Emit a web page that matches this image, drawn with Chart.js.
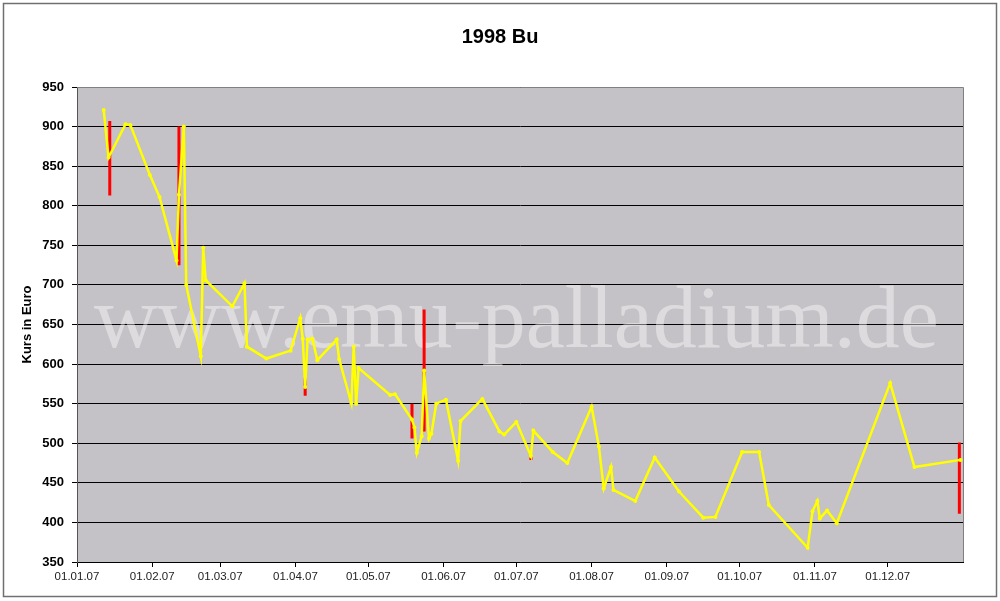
<!DOCTYPE html>
<html><head><meta charset="utf-8">
<script src="https://cdn.jsdelivr.net/npm/chart.js@4.4.0/dist/chart.umd.min.js"></script>
<style>html,body{margin:0;padding:0;background:#fff;}canvas{display:block}</style>
</head><body>
<canvas id="c" width="1000" height="601"></canvas>
<script>
const chartTitle = '1998 Bu';
const yAxisTitle = 'Kurs in Euro';
const watermarkText = 'www.emu-palladium.de';

// x axis: day of year 2007 (0 = 01.01.07)
const monthStartDays = [0, 31, 59, 90, 120, 151, 181, 212, 243, 273, 304, 334];
const monthLabels = ['01.01.07','01.02.07','01.03.07','01.04.07','01.05.07','01.06.07','01.07.07','01.08.07','01.09.07','01.10.07','01.11.07','01.12.07'];

// closing prices (yellow line)
const closeDays = [11,13,20,22,30,34,41,42,44,45,51,52,53,64,69,70,78,88,92,93,94,95,97,99,107,108,113,114,115,116,129,131,138,139,140,142,143,145,146,148,152,157,158,167,174,176,181,187,188,196,202,212,215,217,220,221,230,238,248,258,263,274,281,285,301,303,305,306,309,313,335,345,364];
const closeValues = [921,861,903,902,839,811,731,814,900,700,610,747,706,673,702,622,607,617,658,632,571,631,632,605,631,606,551,622,550,595,561,562,530,520,488,509,592,506,512,550,555,478,528,556,515,511,527,484,516,489,475,546,496,443,470,441,427,482,439,406,407,489,489,422,368,414,427,405,415,399,576,470,479];

// high-low ranges (red bars)
const hlDays = [13.5,42,94,138,143,187,363.5];
const hlHigh = [907,900,582,550,669,484,501];
const hlLow  = [813,725,560,506,515,479,411];

const closeData = closeDays.map((d,i)=>({x:d, y:closeValues[i]}));
const hlData = [];
hlDays.forEach((d,i)=>{ hlData.push({x:d,y:hlHigh[i]}); hlData.push({x:d,y:hlLow[i]}); hlData.push({x:d,y:null}); });

const decor = {
  id:'decor',
  beforeDraw(chart){
    const {ctx, chartArea:a} = chart;
    ctx.save();
    ctx.fillStyle='#fff'; ctx.fillRect(0,0,chart.width,chart.height);
    ctx.strokeStyle='#707070'; ctx.lineWidth=1.5;
    ctx.strokeRect(3.5,3.5,chart.width-7,chart.height-8);
    ctx.fillStyle='#c4c2c6';
    ctx.fillRect(a.left,a.top,a.right-a.left,a.bottom-a.top);
    ctx.restore();
  },
  beforeDatasetsDraw(chart){
    const {ctx, chartArea:a} = chart;
    ctx.save();
    ctx.strokeStyle='#808080'; ctx.lineWidth=1;
    ctx.beginPath();
    ctx.moveTo(a.left,a.top+0.5); ctx.lineTo(a.right+0.5,a.top+0.5); ctx.lineTo(a.right+0.5,a.bottom);
    ctx.stroke();
    ctx.font='88px "Liberation Serif", "Times New Roman", serif';
    ctx.fillStyle='rgba(255,255,255,0.42)';
    ctx.textAlign='left'; ctx.textBaseline='alphabetic';
    ctx.fillText(watermarkText, a.left+17, a.top+260);
    ctx.restore();
  }
};

Chart.defaults.font.family = '"Liberation Sans", Arial, sans-serif';
new Chart(document.getElementById('c'), {
  type:'line',
  data:{datasets:[
    {data:closeData, borderColor:'#ffff00', backgroundColor:'#ffff00', borderWidth:2.5, pointRadius:2, pointBorderWidth:0, pointBackgroundColor:'#ffff00', tension:0, fill:false},
    {data:hlData, borderColor:'#ff0000', borderWidth:3, pointRadius:0, spanGaps:false, tension:0, fill:false}
  ]},
  options:{
    responsive:false, animation:false, devicePixelRatio:1,
    layout:{padding:{left:0,right:0,top:0,bottom:0}},
    plugins:{
      legend:{display:false}, tooltip:{enabled:false},
      title:{display:true, text:chartTitle, color:'#000', font:{size:20, weight:'bold'}, padding:{top:25,bottom:38}}
    },
    scales:{
      x:{type:'linear', min:0, max:365,
        afterBuildTicks:s=>{ s.ticks = monthStartDays.map(v=>({value:v})); },
        ticks:{autoSkip:false, maxRotation:0, color:'#222', font:{size:11.5}, padding:3,
          callback:(v)=>{ const i=monthStartDays.indexOf(v); return i>=0?monthLabels[i]:''; }},
        grid:{drawOnChartArea:false, tickLength:5, color:'#000'},
        border:{color:'#000', width:1},
        afterFit:s=>{ s.height=39; }
      },
      y:{min:350, max:950,
        ticks:{stepSize:50, color:'#000', font:{size:13, weight:'bold'}, padding:8},
        grid:{color:'#000', lineWidth:1, tickLength:5},
        border:{color:'#555', width:1},
        title:{display:true, text:yAxisTitle, color:'#000', font:{size:13, weight:'bold'}, padding:{top:20,bottom:0}},
        afterFit:s=>{ s.width=77; }
      },
      yRight:{position:'right', min:350, max:950,
        ticks:{display:false}, grid:{display:false}, border:{display:false},
        afterFit:s=>{ s.width=37; }
      }
    }
  },
  plugins:[decor]
});
</script>
</body></html>
